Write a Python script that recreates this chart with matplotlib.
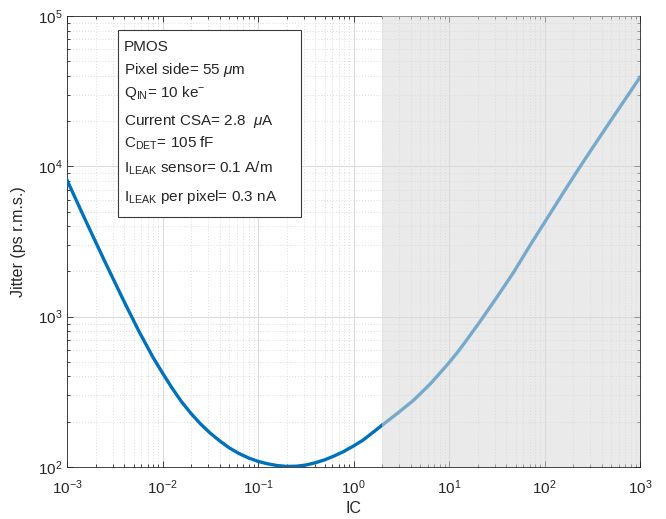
import matplotlib.pyplot as plt
from matplotlib.patches import Rectangle

# ------------------------------------------------------
# Data
# ------------------------------------------------------

# white region (IC up to 2)
ic_values = [0.001, 0.00158, 0.00251, 0.00398, 0.00562, 0.00794, 0.01,
             0.0126, 0.0158, 0.02, 0.0251, 0.0316, 0.0398, 0.0501, 0.0631,
             0.0794, 0.1, 0.126, 0.158, 0.2, 0.251, 0.316, 0.398, 0.501,
             0.631, 0.794, 1.0, 1.26, 1.58, 2.0]
jitter_values = [8110, 4306, 2301, 1253, 807, 537, 422,
                 335, 272, 226, 193, 168, 149, 134, 123,
                 115, 109, 105, 102.3, 100.9, 101.2, 103, 106.7, 111.7,
                 118.6, 127, 138, 151, 169, 190]

# shaded region (IC from 2 to 1000)
ic_shaded = [2.0, 2.82, 4.23, 6.31, 8.0, 10, 12.3, 14.8, 22, 31.6, 47, 70.8,
             100, 158, 226, 316, 501, 708, 1000]
jitter_shaded = [190, 225, 277, 355, 420, 494, 580, 679, 962, 1343, 1954,
                 2990, 4230, 6700, 9550, 13180, 20420, 28250, 39100]

shade_start = 2.0

info_lines = [
    "PMOS",
    r"Pixel side= 55 $\mathit{\mu}$m",
    r"Q$_{\mathrm{IN}}$= 10 ke$^{\mathrm{-}}$",
    r"Current CSA= 2.8  $\mathit{\mu}$A",
    r"C$_{\mathrm{DET}}$= 105 fF",
    r"I$_{\mathrm{LEAK}}$ sensor= 0.1 A/m",
    r"I$_{\mathrm{LEAK}}$ per pixel= 0.3 nA",
]
info_baselines = [51, 73.5, 97, 125, 147.5, 173, 201]

# ------------------------------------------------------
# Style
# ------------------------------------------------------

plt.rcParams['font.family'] = ['Liberation Sans', 'DejaVu Sans']
plt.rcParams['mathtext.fontset'] = 'custom'
plt.rcParams['mathtext.rm'] = 'Liberation Sans'
plt.rcParams['mathtext.it'] = 'Liberation Sans:italic'
plt.rcParams['mathtext.default'] = 'regular'

line_color = '#0072BD'
W, H = 666, 519

fig = plt.figure(figsize=(W / 100, H / 100), dpi=100)
ax = fig.add_axes([67 / W, 1 - 467 / H, (640 - 67) / W, (467 - 16) / H])

# ------------------------------------------------------
# Curve
# ------------------------------------------------------

ax.plot(ic_values, jitter_values, color=line_color, lw=2.4, zorder=3,
        solid_joinstyle='round')
ax.plot(ic_shaded, jitter_shaded, color=line_color, lw=2.4, zorder=3,
        solid_joinstyle='round')

ax.set_xscale('log')
ax.set_yscale('log')
ax.set_xlim(1e-3, 1e3)
ax.set_ylim(1e2, 1e5)

# shaded region drawn over the curve, like the reference
ax.axvspan(shade_start, 1e3, color='#d9d9d9', alpha=0.55, lw=0, zorder=4)

# ------------------------------------------------------
# Grid / ticks
# ------------------------------------------------------

ax.grid(True, which='major', color='#dcdcdc', lw=0.8, ls='-', zorder=0)
ax.grid(True, which='minor', color='#dddddd', lw=0.7, ls=(0, (1, 2)), zorder=0)
ax.set_axisbelow(True)

ax.set_xticks([1e-3, 1e-2, 1e-1, 1e0, 1e1, 1e2, 1e3])
ax.set_yticks([1e2, 1e3, 1e4, 1e5])
ax.tick_params(which='both', direction='in', top=True, right=True,
               colors='#262626', labelsize=11, width=0.6)
ax.tick_params(which='major', length=4)
ax.tick_params(which='minor', length=2.5)
ax.tick_params(axis='x', pad=8)
for s in ax.spines.values():
    s.set_color('#262626')
    s.set_linewidth(0.6)

ax.set_xlabel("IC", fontsize=11.5, color='#262626', labelpad=3)
ax.set_ylabel("Jitter (ps r.m.s.)", fontsize=11.5, color='#262626', labelpad=8)

# ------------------------------------------------------
# Info box
# ------------------------------------------------------

box = Rectangle((118 / W, 1 - 217 / H), (301 - 118) / W, (217 - 30) / H,
                transform=fig.transFigure, facecolor='white',
                edgecolor='#3a3a3a', lw=0.8, zorder=5)
fig.patches.append(box)

for line, yb in zip(info_lines, info_baselines):
    fig.text(124 / W, 1 - yb / H, line, fontsize=11, va='baseline',
             ha='left', color='#262626', zorder=6)

fig.savefig("out.png", dpi=100)
